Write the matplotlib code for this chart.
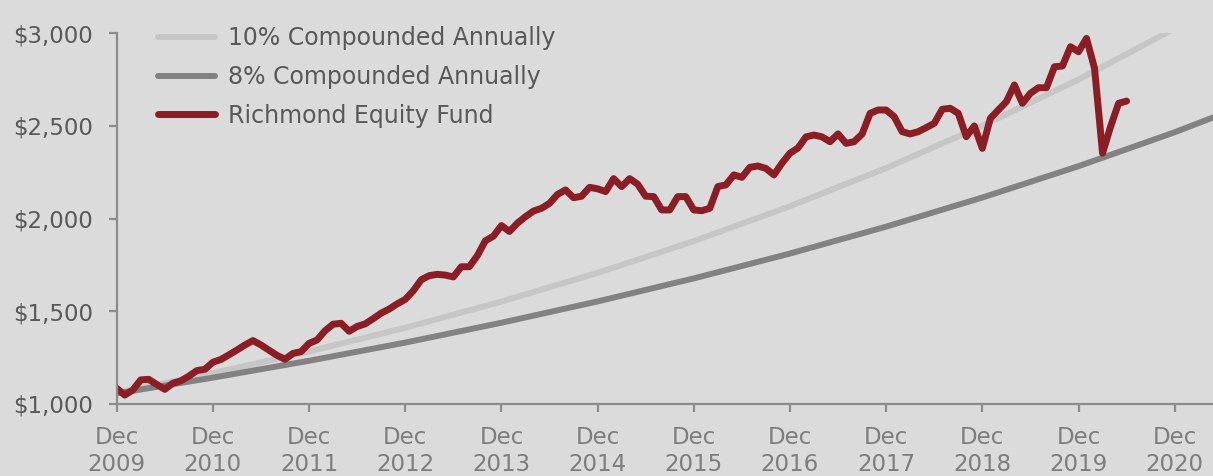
import matplotlib
matplotlib.use("Agg")
import matplotlib.pyplot as plt
import numpy as np

# ---- data ----
fund_values = [
    1085, 1048, 1075, 1130, 1133, 1105, 1079, 1112, 1125, 1150, 1180, 1187,
    1225, 1240, 1265, 1291, 1318, 1342, 1318, 1290, 1262, 1241, 1273, 1282,
    1327, 1345, 1395, 1430, 1435, 1392, 1418, 1432, 1460, 1490, 1512, 1540,
    1564, 1610, 1670, 1692, 1699, 1695, 1685, 1740, 1740, 1800, 1880, 1905,
    1962, 1930, 1975, 2010, 2040, 2055, 2082, 2130, 2154, 2112, 2120, 2168,
    2160, 2145, 2215, 2172, 2215, 2185, 2120, 2118, 2046, 2046, 2118, 2118,
    2046, 2042, 2055, 2172, 2181, 2235, 2222, 2276, 2283, 2270, 2235, 2298,
    2352, 2380, 2440, 2450, 2440, 2414, 2456, 2405, 2414, 2455, 2567, 2585,
    2585, 2549, 2468, 2456, 2468, 2490, 2513, 2589, 2594, 2567, 2441, 2499,
    2378, 2540, 2585, 2630, 2720, 2621, 2675, 2705, 2705, 2818, 2822, 2926,
    2899, 2971, 2810, 2352, 2495, 2621, 2633,
]
# yearly readings (years after Dec 2009) of the two reference lines
ref_years = [0, 1, 2, 3, 4, 5, 6, 7, 8, 9, 10, 11, 11.4]
ten_pct = [1060, 1166, 1283, 1411, 1552, 1707, 1878, 2066, 2272, 2500, 2749, 3024, 3140]
eight_pct = [1057, 1142, 1233, 1331, 1438, 1553, 1677, 1811, 1956, 2113, 2282, 2465, 2545]

tick_years = list(range(2009, 2021))
tick_labels = [f"Dec\n{y}" for y in tick_years]
y_ticks = [1000, 1500, 2000, 2500, 3000]
y_labels = ["$1,000", "$1,500", "$2,000", "$2,500", "$3,000"]

# ---- styling ----
BG = "#dbdbdb"
RED = "#8b1e24"
LIGHT = "#c6c6c6"
DARK = "#828282"
AXIS = "#8c8c8c"
plt.rcParams['font.family'] = ['DejaVu Sans']

fig = plt.figure(figsize=(12.13, 4.76), dpi=100, facecolor=BG)
ax = fig.add_axes([116.7 / 1213, 72 / 476, 1 - 116.7 / 1213, 371 / 476])
ax.set_facecolor(BG)

months = np.arange(len(fund_values))
ref_x = np.array(ref_years) * 12

ax.plot(ref_x, ten_pct, color=LIGHT, lw=4.3, solid_capstyle='round', label="10% Compounded Annually")
ax.plot(ref_x, eight_pct, color=DARK, lw=4.3, solid_capstyle='round', label="8% Compounded Annually")
ax.plot(months, fund_values, color=RED, lw=5.0, solid_capstyle='round', solid_joinstyle='round',
        label="Richmond Equity Fund")

ax.set_xlim(0, (1213 - 116.7) / 8.015)
ax.set_ylim(1000, 3000)

ax.set_xticks([(y - 2009) * 12 for y in tick_years])
ax.set_xticklabels(tick_labels, color="#7d7d7d", fontsize=16.5, linespacing=1.2)
ax.set_yticks(y_ticks)
ax.set_yticklabels(y_labels, color="#585858", fontsize=16.5)

for s in ["top", "right"]:
    ax.spines[s].set_visible(False)
for s in ["left", "bottom"]:
    ax.spines[s].set_color(AXIS)
    ax.spines[s].set_linewidth(1.6)
ax.tick_params(axis='both', colors=AXIS, length=6, width=1.6)
ax.tick_params(axis='x', labelcolor="#7d7d7d", pad=10)
ax.tick_params(axis='y', labelcolor="#585858", pad=11)

leg = ax.legend(loc='upper left', bbox_to_anchor=(137 / 1213, 1 - 5 / 476),
                bbox_transform=fig.transFigure, frameon=False, fontsize=17,
                handlelength=2.4, handletextpad=0.55, labelspacing=0.62)
for t in leg.get_texts():
    t.set_color("#585858")

fig.savefig("out.png", dpi=100, facecolor=BG)
